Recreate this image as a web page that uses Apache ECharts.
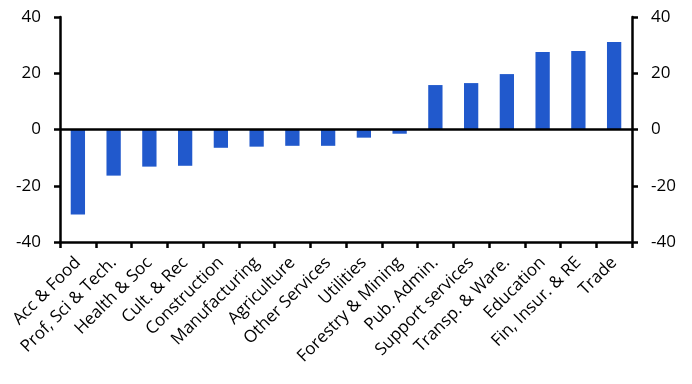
<!DOCTYPE html>
<html><head><meta charset="utf-8">
<script src="https://cdn.jsdelivr.net/npm/echarts@6/dist/echarts.min.js"></script>
<style>html,body{margin:0;padding:0;background:#fff}#c{width:692px;height:384px}</style>
</head><body><div id="c"></div>
<script>
const categories = ["Acc & Food","Prof, Sci & Tech.","Health & Soc","Cult. & Rec","Construction","Manufacturing","Agriculture","Other Services","Utilities","Forestry & Mining","Pub. Admin.","Support services","Transp. & Ware.","Education","Fin, Insur. & RE","Trade"];
const values = [-30.2,-16.4,-13.2,-12.9,-6.5,-6.1,-5.8,-5.8,-2.9,-1.5,15.8,16.5,19.7,27.6,27.9,31.1];
const yMin = -40, yMax = 40, yStep = 20;

const font = "'Open Sans', 'Noto Sans', sans-serif";
const valueAxis = (pos) => ({
  type: 'value', position: pos, min: yMin, max: yMax, interval: yStep,
  axisLine: {show: true, lineStyle: {color: '#000', width: 2.5}},
  axisTick: {show: true, length: 6, lineStyle: {color: '#000', width: 2.5}},
  axisLabel: {color: '#000', fontSize: 17, fontFamily: font, margin: 19},
  splitLine: {show: false}
});
const chart = echarts.init(document.getElementById('c'));
chart.setOption({
  animation: false,
  grid: {left: 60, right: 60, top: 17, bottom: 142, containLabel: false},
  xAxis: {
    type: 'category', data: categories,
    axisLine: {onZero: false, lineStyle: {color: '#000', width: 2.5}},
    axisTick: {show: true, length: 6, alignWithLabel: false, lineStyle: {color: '#000', width: 2.5}},
    axisLabel: {rotate: 45, interval: 0, color: '#000', fontSize: 17, fontFamily: font, margin: 18}
  },
  yAxis: [valueAxis('left'), valueAxis('right')],
  series: [{
    type: 'bar', data: values, barWidth: '40%', yAxisIndex: 0,
    itemStyle: {color: '#2159cc'},
    markLine: {silent: true, symbol: 'none', label: {show: false},
      lineStyle: {color: '#000', width: 2.5, type: 'solid'}, data: [{yAxis: 0}]}
  }]
});
</script></body></html>
